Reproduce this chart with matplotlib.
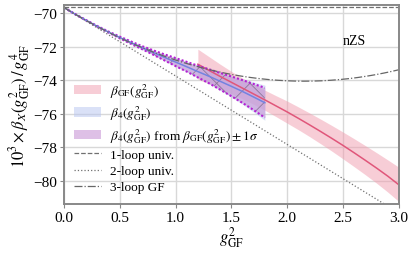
"""Beta function comparison in the nZS scheme: GF vs 4-loop reconstructions."""

import matplotlib
matplotlib.use("Agg")
import matplotlib.pyplot as plt
import numpy as np

# perturbative coefficients (x 10^3)
B0 = -69.66   # 1-loop universal
B1 = -4.09    # 2-loop universal, per g^2
B2_GF = 0.95  # 3-loop GF, per g^4

# beta_GF band (pink)
x_gf = [1.2, 1.3, 1.4, 1.5, 1.6, 1.7, 1.8, 1.9, 2.0, 2.1,
        2.2, 2.3, 2.4, 2.5, 2.6, 2.7, 2.8, 2.9, 3.0]
gf_mid = [-73.05, -73.42, -73.78, -74.13, -74.48, -74.83, -75.18, -75.54, -75.90, -76.28,
          -76.67, -77.07, -77.48, -77.90, -78.34, -78.79, -79.25, -79.73, -80.25]
gf_hi = [-72.15, -72.60, -73.05, -73.48, -73.88, -74.25, -74.60, -74.93, -75.25, -75.60,
         -75.96, -76.33, -76.71, -77.10, -77.50, -77.91, -78.33, -78.76, -79.20]
gf_lo = [-73.95, -74.22, -74.50, -74.80, -75.12, -75.45, -75.80, -76.18, -76.57, -76.96,
         -77.37, -77.80, -78.24, -78.70, -79.17, -79.65, -80.15, -80.68, -81.25]

# beta_4 band (blue) and beta_4 from beta_GF (purple)
x_b4 = [0.0, 0.1, 0.2, 0.3, 0.4, 0.5, 0.6, 0.7, 0.8, 0.9,
        1.0, 1.1, 1.2, 1.3, 1.4, 1.5, 1.6, 1.7, 1.8]
b4_mid = [-69.66, -70.06, -70.43, -70.79, -71.13, -71.45, -71.76, -72.06, -72.35, -72.64,
          -72.92, -73.20, -73.49, -73.77, -74.07, -74.37, -74.68, -75.01, -75.35]
b4_err = [0.0, 0.01, 0.01, 0.02, 0.03, 0.05, 0.07, 0.10, 0.14, 0.19,
          0.25, 0.30, 0.37, 0.45, 0.54, 0.64, 0.76, 0.90, 1.05]
pu_err = [0.0, 0.01, 0.01, 0.02, 0.03, 0.05, 0.07, 0.09, 0.13, 0.18,
          0.24, 0.29, 0.35, 0.42, 0.50, 0.59, 0.68, 0.78, 0.89]

plt.rcParams["font.family"] = ["Liberation Serif", "DejaVu Serif"]
plt.rcParams["mathtext.fontset"] = "stix"
plt.rcParams["hatch.linewidth"] = 0.6

fig = plt.figure(figsize=(4.15, 2.55), dpi=100)
ax = fig.add_axes([0.154, 0.196, 0.807, 0.78])

x_gf = np.array(x_gf)
x_b4 = np.array(x_b4)
b4_mid = np.array(b4_mid)
b4_err = np.array(b4_err)
pu_err = np.array(pu_err)

h_gf = ax.fill_between(x_gf, gf_lo, gf_hi, color="#f19cae", alpha=0.5, lw=0,
                       label=r"$\beta_{\rm GF}(g^2_{\rm GF})$")
ax.plot(x_gf, gf_mid, color="#e0567a", lw=1.1)

h_b4 = ax.fill_between(x_b4, b4_mid - b4_err, b4_mid + b4_err, color="#b7c5f0",
                       alpha=0.5, lw=0, label=r"$\beta_4(g^2_{\rm GF})$")
h_pu = ax.fill_between(x_b4, b4_mid - pu_err, b4_mid + pu_err, color="#c897d6",
                       alpha=0.6, lw=0,
                       label=r"$\beta_4(g^2_{\rm GF})$ from $\beta_{\rm GF}(g^2_{\rm GF})\pm1\sigma$")
ax.fill_between(x_b4, b4_mid - pu_err, b4_mid + pu_err, facecolor="none",
                edgecolor="#8c7899", hatch="x", lw=0)
ax.plot(x_b4, b4_mid + pu_err, color="#b422d2", lw=1.5, ls=(0, (1, 1)))
ax.plot(x_b4, b4_mid - pu_err, color="#b422d2", lw=1.5, ls=(0, (1, 1)))
ax.plot(x_b4, b4_mid, color="#7383e0", lw=1.1)

xx = np.linspace(0, 3, 301)
h1, = ax.plot(xx, B0 + 0 * xx, color="#707070", lw=0.9, ls="--", label="1-loop univ.")
h2, = ax.plot(xx, B0 + B1 * xx, color="#707070", lw=0.9, ls=":", label="2-loop univ.")
h3, = ax.plot(xx, B0 + B1 * xx + B2_GF * xx ** 2, color="#666666", lw=0.9, ls="-.",
              label="3-loop GF")

ax.text(2.5, -71.85, "nZS", fontsize=10)

ax.set_xlim(0, 3.0)
ax.set_ylim(-81.4, -69.52)
ax.set_xticks(np.arange(0, 3.01, 0.5))
ax.set_yticks(np.arange(-80, -69, 2))
ax.tick_params(labelsize=11, length=3, color="#888888", pad=2)
ax.grid(True, color="#d8d8d8", lw=1.0)
ax.set_axisbelow(True)
for s in ax.spines.values():
    s.set_color("#888888")
    s.set_linewidth(1.4)

ax.set_xlabel(r"$g^2_{\rm GF}$", fontsize=12, labelpad=0)
ax.set_ylabel(r"$10^3\times\beta_X(g^2_{\rm GF})\,/\,g^4_{\rm GF}$", fontsize=12, labelpad=1)

ax.legend(handles=[h_gf, h_b4, h_pu, h1, h2, h3], loc="lower left",
          bbox_to_anchor=(0.0, 0.0), frameon=False, fontsize=9.5,
          handlelength=2.0, handletextpad=0.7, labelspacing=0.3, borderaxespad=0.4)

fig.savefig("out.png", dpi=100)
